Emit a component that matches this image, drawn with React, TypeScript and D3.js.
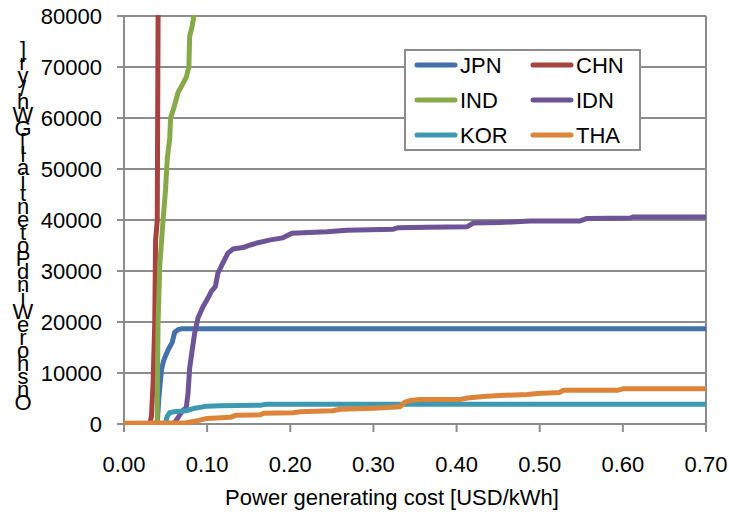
import React, { useEffect, useRef } from "react";
import * as d3 from "d3";

// cumulative potential curves [cost USD/kWh, GWh/yr]
const JPN = [
  [0.04, 0], [0.042, 5300], [0.045, 10500], [0.047, 12000], [0.049, 13000],
  [0.053, 14500], [0.058, 16000], [0.061, 18000], [0.065, 18500], [0.07, 18700], [0.7, 18700],
];
const CHN = [
  [0.031, 0], [0.033, 1500], [0.035, 8000], [0.036, 14000], [0.037, 20000],
  [0.038, 36000], [0.04, 40000], [0.041, 80000], [0.0415, 90000],
];
const IND = [
  [0.04, 0], [0.04, 5000], [0.041, 20000], [0.043, 31000], [0.047, 40000], [0.05, 46000],
  [0.052, 52000], [0.055, 56000], [0.056, 60000], [0.06, 62000], [0.065, 65000],
  [0.07, 66500], [0.075, 68000], [0.078, 70000], [0.079, 76000], [0.082, 78000],
  [0.084, 80000], [0.086, 83000],
];
const IDN = [
  [0.058, 0], [0.062, 500], [0.07, 2500], [0.075, 3300], [0.077, 6000], [0.079, 11000],
  [0.082, 14500], [0.085, 17800], [0.089, 20800], [0.095, 23000], [0.101, 24700],
  [0.105, 26000], [0.11, 27000], [0.113, 29600], [0.119, 31600], [0.125, 33500],
  [0.131, 34300], [0.143, 34600], [0.152, 35100], [0.16, 35500], [0.176, 36100],
  [0.191, 36500], [0.202, 37400], [0.215, 37500], [0.244, 37700], [0.268, 38000],
  [0.324, 38200], [0.33, 38500], [0.364, 38600], [0.413, 38700], [0.42, 39400],
  [0.452, 39500], [0.488, 39800], [0.548, 39800], [0.557, 40300], [0.609, 40400],
  [0.612, 40600], [0.7, 40600],
];
const KOR = [
  [0.045, 0], [0.05, 200], [0.052, 1500], [0.055, 2200], [0.06, 2400], [0.075, 2600],
  [0.085, 3100], [0.1, 3500], [0.115, 3600], [0.165, 3700], [0.17, 3850], [0.7, 3850],
];
const THA = [
  [0.0, 150], [0.075, 250], [0.09, 700], [0.1, 1100], [0.128, 1300], [0.134, 1700],
  [0.164, 1800], [0.168, 2100], [0.203, 2200], [0.212, 2400], [0.251, 2600],
  [0.26, 2900], [0.3, 3100], [0.312, 3200], [0.332, 3400], [0.338, 4300],
  [0.344, 4600], [0.356, 4800], [0.404, 4800], [0.413, 5100], [0.432, 5400],
  [0.452, 5600], [0.485, 5800], [0.497, 6000], [0.524, 6200], [0.528, 6600],
  [0.593, 6600], [0.6, 6900], [0.7, 6900],
];

const names = ["JPN", "CHN", "IND", "IDN", "KOR", "THA"];
const seriesData = [JPN, CHN, IND, IDN, KOR, THA];
const colors = ["#4471a9", "#a8423f", "#87a94a", "#6d5497", "#3d98b1", "#dd843b"];
const xTicks = [0, 0.1, 0.2, 0.3, 0.4, 0.5, 0.6, 0.7];
const yTicks = [0, 10000, 20000, 30000, 40000, 50000, 60000, 70000, 80000];
const yTitle = "Onshore Wind Potential [GWh/yr]";
const xTitle = "Power generating cost [USD/kWh]";

const App = () => {
  const ref = useRef<SVGSVGElement>(null);

  useEffect(() => {
    const W = 729;
    const H = 515;
    const margin = { top: 16, right: 23, bottom: 91, left: 124 };
    const width = W - margin.left - margin.right;
    const height = H - margin.top - margin.bottom;
    const font = "Liberation Sans, Arial, sans-serif";
    const grid = "#8c8c8c";

    const svg = d3.select(ref.current);
    svg.selectAll("*").remove();

    const x = d3.scaleLinear().domain([0, 0.7]).range([0, width]);
    const y = d3.scaleLinear().domain([0, 80000]).range([height, 0]);

    svg.append("defs")
      .append("clipPath")
      .attr("id", "plotClip")
      .append("rect")
      .attr("x", 0)
      .attr("y", -1)
      .attr("width", width + 2)
      .attr("height", height + 2);

    const g = svg.append("g").attr("transform", `translate(${margin.left},${margin.top})`);

    // horizontal gridlines
    g.selectAll(".grid")
      .data(yTicks)
      .enter()
      .append("line")
      .attr("x1", -7)
      .attr("x2", width)
      .attr("y1", (d) => y(d))
      .attr("y2", (d) => y(d))
      .attr("stroke", grid)
      .attr("stroke-width", 2);

    // right border
    g.append("line")
      .attr("x1", width).attr("x2", width)
      .attr("y1", 0).attr("y2", height)
      .attr("stroke", grid).attr("stroke-width", 2);

    // left axis line
    g.append("line")
      .attr("x1", 0).attr("x2", 0)
      .attr("y1", 0).attr("y2", height)
      .attr("stroke", grid).attr("stroke-width", 2);

    // x ticks
    g.selectAll(".xtick")
      .data(xTicks)
      .enter()
      .append("line")
      .attr("x1", (d) => x(d))
      .attr("x2", (d) => x(d))
      .attr("y1", height)
      .attr("y2", height + 8)
      .attr("stroke", grid)
      .attr("stroke-width", 2);

    g.selectAll(".xlabel")
      .data(xTicks)
      .enter()
      .append("text")
      .attr("x", (d) => x(d))
      .attr("y", height + 48)
      .attr("text-anchor", "middle")
      .attr("font-family", font)
      .attr("font-size", 22)
      .attr("fill", "#000")
      .text((d) => d3.format(".2f")(d));

    g.selectAll(".ylabel")
      .data(yTicks)
      .enter()
      .append("text")
      .attr("x", -22)
      .attr("y", (d) => y(d) + 8)
      .attr("text-anchor", "end")
      .attr("font-family", font)
      .attr("font-size", 22)
      .attr("fill", "#000")
      .text((d) => d);

    const line = d3
      .line<number[]>()
      .x((d) => x(d[0]))
      .y((d) => y(d[1]));

    const lines = g.append("g").attr("clip-path", "url(#plotClip)");
    seriesData.forEach((s, i) => {
      lines
        .append("path")
        .attr("d", line(s))
        .attr("fill", "none")
        .attr("stroke", colors[i])
        .attr("stroke-width", 5)
        .attr("stroke-linejoin", "round");
    });

    // legend
    const lg = svg.append("g").attr("transform", "translate(405,50)");
    lg.append("rect")
      .attr("width", 235)
      .attr("height", 100)
      .attr("fill", "#fff")
      .attr("stroke", grid)
      .attr("stroke-width", 2);

    const item = lg
      .selectAll(".item")
      .data(names)
      .enter()
      .append("g")
      .attr("transform", (d, i) => `translate(${i % 2 === 0 ? 12 : 128},${15 + Math.floor(i / 2) * 35})`);

    item.append("line")
      .attr("x1", 0).attr("x2", 38)
      .attr("y1", 0).attr("y2", 0)
      .attr("stroke", (d, i) => colors[i])
      .attr("stroke-width", 5)
      .attr("stroke-linecap", "round");

    item.append("text")
      .attr("x", 43)
      .attr("y", 8)
      .attr("font-family", font)
      .attr("font-size", 22)
      .attr("fill", "#000")
      .text((d) => d);

    // x title
    svg.append("text")
      .attr("x", 392)
      .attr("y", 505)
      .attr("text-anchor", "middle")
      .attr("font-family", font)
      .attr("font-size", 22)
      .attr("fill", "#000")
      .text(xTitle);

    // y title: one text, letters stacked from bottom up
    const chars = yTitle.replace(/ /g, "").split("");
    const yt = svg.append("text")
      .attr("font-family", font)
      .attr("font-size", 22)
      .attr("fill", "#000")
      .attr("text-anchor", "middle");
    yt.selectAll("tspan")
      .data(chars)
      .enter()
      .append("tspan")
      .attr("x", 23)
      .attr("y", (d, i) => 410 - i * 13.07)
      .text((d) => d);
  }, []);

  return (
    <svg
      ref={ref}
      width={729}
      height={515}
      style={{ position: "absolute", left: 0, top: 0, background: "#fff" }}
    />
  );
};

export default App;
